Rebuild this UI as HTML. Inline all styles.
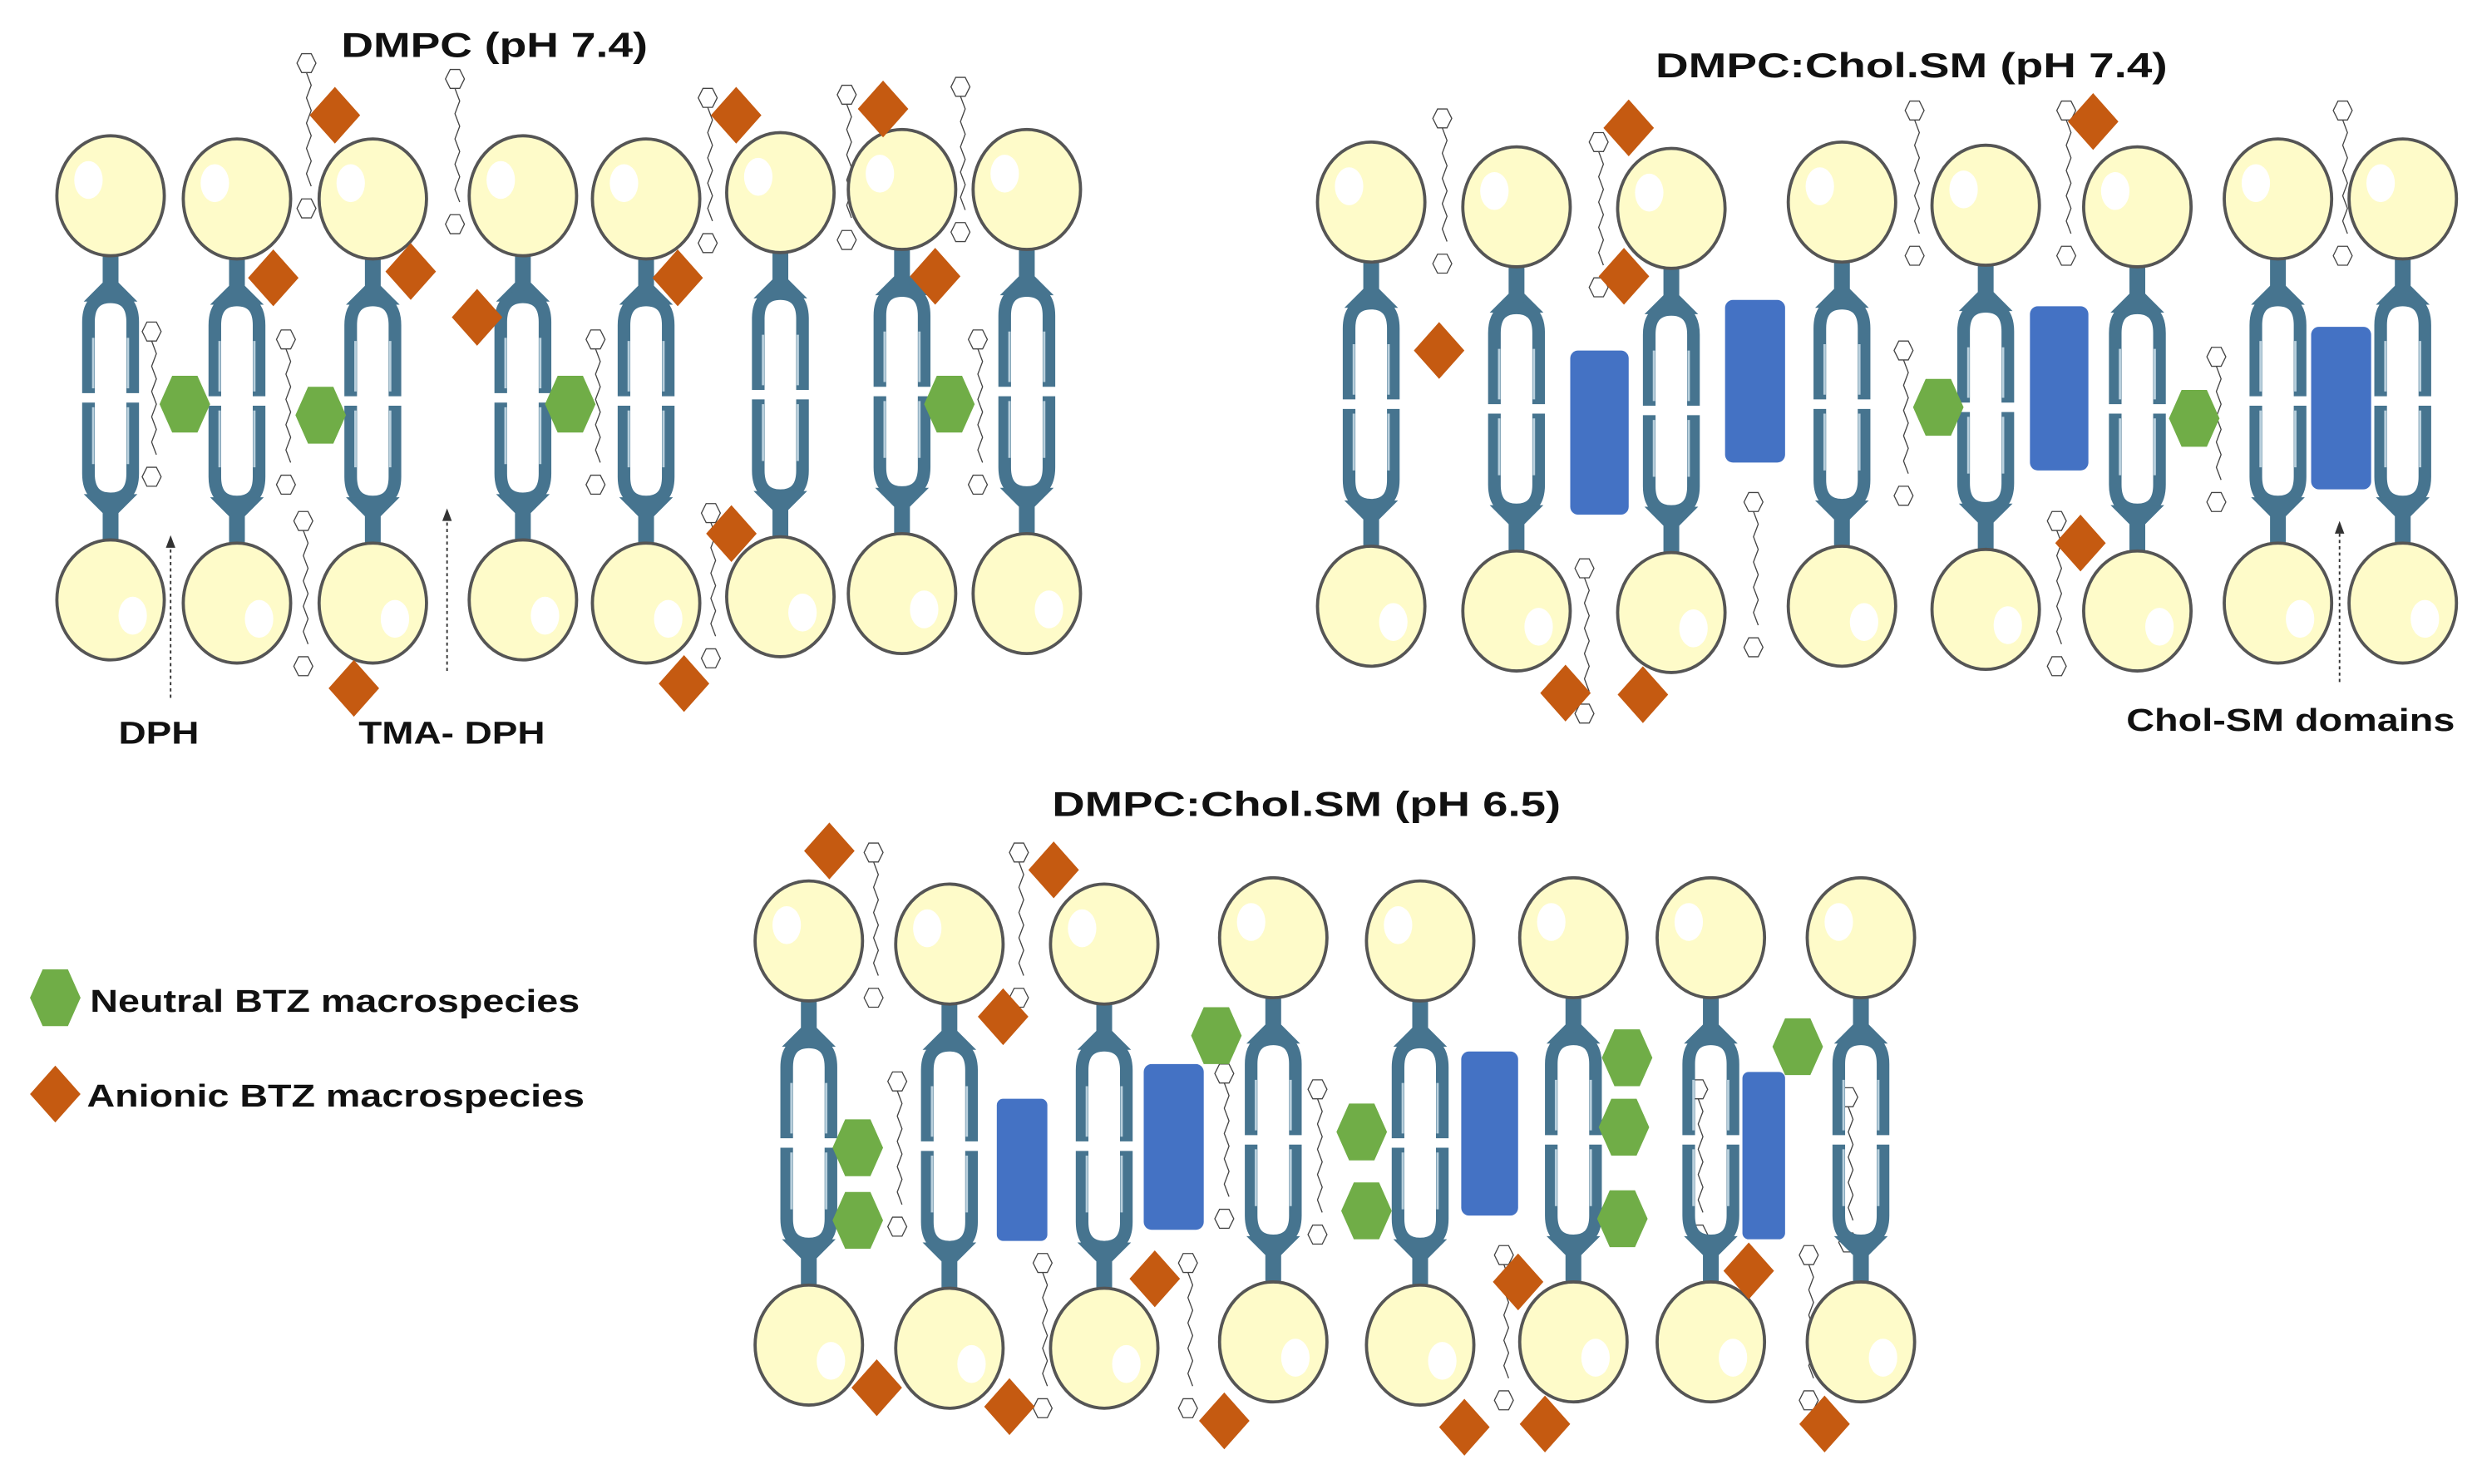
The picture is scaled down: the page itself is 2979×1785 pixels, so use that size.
<!DOCTYPE html>
<html><head><meta charset="utf-8"><style>html,body{margin:0;padding:0;background:#fff}svg{display:block}</style></head>
<body>
<svg width="2979" height="1785" viewBox="0 0 1568 940" preserveAspectRatio="none" xmlns="http://www.w3.org/2000/svg">
<defs>
<g id="lip">
<path d="M-5,30 L5,30 L5,55 L17,67 L-17,67 L-5,55 Z" fill="#46748f"/>
<path d="M-14,125 V80 Q-14,64 0,64 Q14,64 14,80 V125" stroke="#46748f" stroke-width="8" fill="none"/>
<path d="M-14,131 V176 Q-14,192 0,192 Q14,192 14,176 V131" stroke="#46748f" stroke-width="8" fill="none"/>
<path d="M-11,90 V122 M11,90 V122 M-11,134 V170 M11,134 V170" stroke="#b9d0dd" stroke-width="1.5" fill="none"/>
<path d="M-17,189 L17,189 L5,201 L5,226 L-5,226 L-5,201 Z" fill="#46748f"/>
<ellipse cx="0" cy="0" rx="34" ry="38" fill="#fefbc9" stroke="#555" stroke-width="2"/>
<ellipse cx="-14" cy="-10" rx="9" ry="12" fill="#fff"/>
<ellipse cx="0" cy="256" rx="34" ry="38" fill="#fefbc9" stroke="#555" stroke-width="2"/>
<ellipse cx="14" cy="266" rx="9" ry="12" fill="#fff"/>
</g>
<polygon id="dia" points="0,-18 16,0 0,18 -16,0" fill="#c55a11"/>
<polygon id="hex" points="-16,0 -8,-18 8,-18 16,0 8,18 -8,18" fill="#70ad47"/>
<g id="dph" fill="none" stroke="#444" stroke-width="0.7">
<polygon points="-6,0 -3,-6 3,-6 6,0 3,6 -3,6"/>
<path d="M0,6 l3,8 l-3,8 l3,8 l-3,8 l3,8 l-3,8 l3,8 l-3,8 l3,8"/>
<polygon points="-6,92 -3,86 3,86 6,92 3,98 -3,98"/>
</g>
</defs>

<g font-family="Liberation Sans, Arial, sans-serif" font-weight="bold" fill="#111">
<text x="216" y="36" font-size="22" textLength="194" lengthAdjust="spacingAndGlyphs">DMPC (pH 7.4)</text>
<text x="1048" y="49" font-size="22" textLength="324" lengthAdjust="spacingAndGlyphs">DMPC:Chol.SM (pH 7.4)</text>
<text x="666" y="517" font-size="22" textLength="322" lengthAdjust="spacingAndGlyphs">DMPC:Chol.SM (pH 6.5)</text>
<text x="75" y="471" font-size="20" textLength="51" lengthAdjust="spacingAndGlyphs">DPH</text>
<text x="227" y="471" font-size="20" textLength="118" lengthAdjust="spacingAndGlyphs">TMA- DPH</text>
<text x="1346" y="463" font-size="20" textLength="208" lengthAdjust="spacingAndGlyphs">Chol-SM domains</text>
<text x="57" y="641" font-size="20" textLength="310" lengthAdjust="spacingAndGlyphs">Neutral BTZ macrospecies</text>
<text x="55" y="701" font-size="20" textLength="315" lengthAdjust="spacingAndGlyphs">Anionic BTZ macrospecies</text>
</g>

<!-- dotted arrows -->
<g stroke="#333" stroke-width="1" stroke-dasharray="2,2" fill="none">
<path d="M108,442 V345"/><path d="M283,425 V328"/><path d="M1481,432 V336"/>
</g>
<g fill="#333"><polygon points="105,347 108,339 111,347"/><polygon points="280,330 283,322 286,330"/><polygon points="1478,338 1481,330 1484,338"/></g>

<!-- DPH molecules -->
<use href="#dph" x="96" y="210"/><use href="#dph" x="181" y="215"/><use href="#dph" x="377" y="215"/><use href="#dph" x="619" y="215"/>
<use href="#dph" x="194" y="40"/><use href="#dph" x="288" y="50"/><use href="#dph" x="448" y="62"/><use href="#dph" x="536" y="60"/><use href="#dph" x="608" y="55"/>
<use href="#dph" x="192" y="330"/><use href="#dph" x="450" y="325"/>
<use href="#dph" x="913" y="75"/><use href="#dph" x="1012" y="90"/><use href="#dph" x="1212" y="70"/><use href="#dph" x="1308" y="70"/><use href="#dph" x="1483" y="70"/>
<use href="#dph" x="1205" y="222"/><use href="#dph" x="1403" y="226"/>
<use href="#dph" x="1003" y="360"/><use href="#dph" x="1110" y="318"/><use href="#dph" x="1302" y="330"/>
<use href="#dph" x="553" y="540"/><use href="#dph" x="645" y="540"/><use href="#dph" x="568" y="685"/><use href="#dph" x="775" y="680"/><use href="#dph" x="834" y="690"/><use href="#dph" x="1075" y="690"/><use href="#dph" x="1170" y="695"/>
<use href="#dph" x="660" y="800"/><use href="#dph" x="752" y="800"/><use href="#dph" x="952" y="795"/><use href="#dph" x="1145" y="795"/>

<!-- Panel 1 lipids -->
<use href="#lip" x="70" y="124"/><use href="#lip" x="150" y="126"/><use href="#lip" x="236" y="126"/><use href="#lip" x="331" y="124"/>
<use href="#lip" x="409" y="126"/><use href="#lip" x="494" y="122"/><use href="#lip" x="571" y="120"/><use href="#lip" x="650" y="120"/>

<!-- Panel 2 lipids -->
<use href="#lip" x="868" y="128"/><use href="#lip" x="960" y="131"/><use href="#lip" x="1058" y="132"/><use href="#lip" x="1166" y="128"/>
<use href="#lip" x="1257" y="130"/><use href="#lip" x="1353" y="131"/><use href="#lip" x="1442" y="126"/><use href="#lip" x="1521" y="126"/>

<!-- Panel 3 lipids -->
<use href="#lip" x="512" y="596"/><use href="#lip" x="601" y="598"/><use href="#lip" x="699" y="598"/><use href="#lip" x="806" y="594"/>
<use href="#lip" x="899" y="596"/><use href="#lip" x="996" y="594"/><use href="#lip" x="1083" y="594"/><use href="#lip" x="1178" y="594"/>

<!-- cholesterol/SM blocks -->
<g fill="#4472c4">
<rect x="994" y="222" width="37" height="104" rx="5"/><rect x="1092" y="190" width="38" height="103" rx="5"/>
<rect x="1285" y="194" width="37" height="104" rx="5"/><rect x="1463" y="207" width="38" height="103" rx="5"/>
<rect x="631" y="696" width="32" height="90" rx="4"/><rect x="724" y="674" width="38" height="105" rx="5"/>
<rect x="925" y="666" width="36" height="104" rx="5"/><rect x="1103" y="679" width="27" height="106" rx="4"/>
</g>

<!-- diamonds -->
<use href="#dia" x="212" y="73"/><use href="#dia" x="173" y="176"/><use href="#dia" x="260" y="172"/><use href="#dia" x="302" y="201"/>
<use href="#dia" x="466" y="73"/><use href="#dia" x="429" y="176"/><use href="#dia" x="559" y="69"/><use href="#dia" x="592" y="175"/>
<use href="#dia" x="463" y="338"/><use href="#dia" x="224" y="436"/><use href="#dia" x="433" y="433"/>
<use href="#dia" x="1031" y="81"/><use href="#dia" x="911" y="222"/><use href="#dia" x="1028" y="175"/><use href="#dia" x="1325" y="77"/>
<use href="#dia" x="1317" y="344"/><use href="#dia" x="991" y="439"/><use href="#dia" x="1040" y="440"/>
<use href="#dia" x="525" y="539"/><use href="#dia" x="667" y="551"/><use href="#dia" x="635" y="644"/><use href="#dia" x="731" y="810"/>
<use href="#dia" x="961" y="812"/><use href="#dia" x="1107" y="805"/><use href="#dia" x="555" y="879"/><use href="#dia" x="639" y="891"/>
<use href="#dia" x="775" y="900"/><use href="#dia" x="927" y="904"/><use href="#dia" x="978" y="902"/><use href="#dia" x="1155" y="902"/>
<use href="#dia" x="35" y="693"/>

<!-- hexagons -->
<use href="#hex" x="117" y="256"/><use href="#hex" x="203" y="263"/><use href="#hex" x="361" y="256"/><use href="#hex" x="601" y="256"/>
<use href="#hex" x="1227" y="258"/><use href="#hex" x="1389" y="265"/>
<use href="#hex" x="543" y="727"/><use href="#hex" x="543" y="773"/><use href="#hex" x="770" y="656"/><use href="#hex" x="862" y="717"/>
<use href="#hex" x="865" y="767"/><use href="#hex" x="1030" y="670"/><use href="#hex" x="1028" y="714"/><use href="#hex" x="1027" y="772"/>
<use href="#hex" x="1138" y="663"/>
<use href="#hex" x="35" y="632"/>
</svg>
</body></html>
